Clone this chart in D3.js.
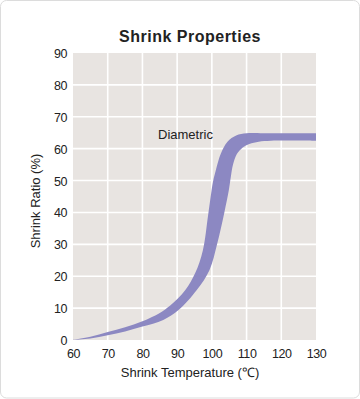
<!DOCTYPE html>
<html>
<head>
<meta charset="utf-8">
<script src="https://cdn.jsdelivr.net/npm/d3@7/dist/d3.min.js"></script>
<style>
  html, body { margin: 0; padding: 0; background: #ffffff; }
  svg { display: block; }
  text { font-family: "Liberation Sans", Arial, Helvetica, sans-serif; fill: #222; }
</style>
</head>
<body>
<svg id="chart" width="360" height="399"></svg>
<script>
// ---- data ----
const title = "Shrink Properties";
const xLabel = "Shrink Temperature (\u2103)";
const yLabel = "Shrink Ratio (%)";
const seriesLabel = "Diametric";
const xTicks = [60, 70, 80, 90, 100, 110, 120, 130];
const yTicks = [0, 10, 20, 30, 40, 50, 60, 70, 80, 90];
// upper edge of the band (temperature, ratio)
const upperTemp  = [60, 65, 70, 75, 80, 85, 88, 92.3, 95.2, 97.4, 98.9, 99.8, 100.4, 101.2, 102.6, 104.5, 107, 110, 115, 130];
const upperRatio = [0, 1.0, 2.5, 4.0, 5.9, 8.5, 10.8, 15.6, 21, 28.1, 39, 46, 50, 53.5, 58.5, 62.2, 64.1, 64.8, 64.8, 64.8];
// lower edge of the band
const lowerTemp  = [60, 65, 70, 75, 80, 86, 90.4, 95.6, 99.3, 101.5, 103.6, 104.9, 105.45, 106.1, 107.2, 108.9, 110.8, 113.5, 117, 130];
const lowerRatio = [0, 0.5, 1.5, 2.7, 4.2, 6.3, 9.4, 15.6, 21.9, 30, 40, 47, 51, 55, 58.3, 60.4, 61.5, 62.2, 62.5, 62.5];

// ---- layout ----
const svg = d3.select("#chart");
const m = { left: 73, right: 316, top: 53, bottom: 340 };

// card
svg.append("rect")
  .attr("x", 0.5).attr("y", 0.5).attr("width", 359).attr("height", 397.5)
  .attr("rx", 6).attr("ry", 6)
  .attr("fill", "#fff").attr("stroke", "#dcdcdc").attr("stroke-width", 1);

const x = d3.scaleLinear().domain([60, 130]).range([m.left, m.right]);
const y = d3.scaleLinear().domain([0, 90]).range([m.bottom, m.top]);

// plot background
svg.append("rect")
  .attr("x", x(60)).attr("y", y(90))
  .attr("width", x(130) - x(60)).attr("height", y(0) - y(90))
  .attr("fill", "#e8e4e1");

// grid
const g = svg.append("g");
g.selectAll("line.v").data(xTicks.filter(d => d > 60 && d < 130)).join("line")
  .attr("x1", d => x(d)).attr("x2", d => x(d))
  .attr("y1", y(90)).attr("y2", y(0))
  .attr("stroke", "#fff").attr("stroke-width", 1.6);
g.selectAll("line.h").data(yTicks.filter(d => d > 0 && d < 90)).join("line")
  .attr("x1", x(60)).attr("x2", x(130))
  .attr("y1", d => y(d)).attr("y2", d => y(d))
  .attr("stroke", "#fff").attr("stroke-width", 1.6);

// band
const band = upperTemp.map((t, i) => ({ ut: t, ur: upperRatio[i], lt: lowerTemp[i], lr: lowerRatio[i] }));
const area = d3.area()
  .x1(d => x(d.ut)).y1(d => y(d.ur))
  .x0(d => x(d.lt)).y0(d => y(d.lr))
  .curve(d3.curveCatmullRom.alpha(0.5));
svg.append("path").datum(band).attr("d", area)
  .attr("fill", "#8c88c2");

// axes (labels only)
const xAxis = d3.axisBottom(x).tickValues(xTicks).tickSize(0).tickPadding(0);
const xg = svg.append("g").attr("transform", `translate(0,${m.bottom})`).call(xAxis);
xg.select(".domain").remove();
xg.selectAll("text")
  .attr("y", 18).attr("dy", 0)
  .style("font-size", "12.5px").style("letter-spacing", "-0.4px").attr("fill", "#222");

const yAxis = d3.axisLeft(y).tickValues(yTicks).tickSize(0).tickPadding(0);
const yg = svg.append("g").attr("transform", `translate(${m.left},0)`).call(yAxis);
yg.select(".domain").remove();
yg.selectAll("text")
  .attr("x", -6).attr("dy", "0.36em")
  .style("font-size", "12.5px").style("letter-spacing", "-0.4px").attr("fill", "#222");

// title
svg.append("text").attr("x", 190).attr("y", 42)
  .attr("text-anchor", "middle")
  .style("font-size", "16px").style("font-weight", "bold").style("letter-spacing", "0.5px")
  .text(title);

// axis titles
svg.append("text").attr("x", 190).attr("y", 377)
  .attr("text-anchor", "middle").style("font-size", "13px")
  .text(xLabel);
svg.append("text")
  .attr("transform", "translate(40,201) rotate(-90)")
  .attr("text-anchor", "middle").style("font-size", "13px")
  .text(yLabel);

// series label
svg.append("text").attr("x", 158).attr("y", 139)
  .style("font-size", "13px")
  .text(seriesLabel);
</script>
</body>
</html>
